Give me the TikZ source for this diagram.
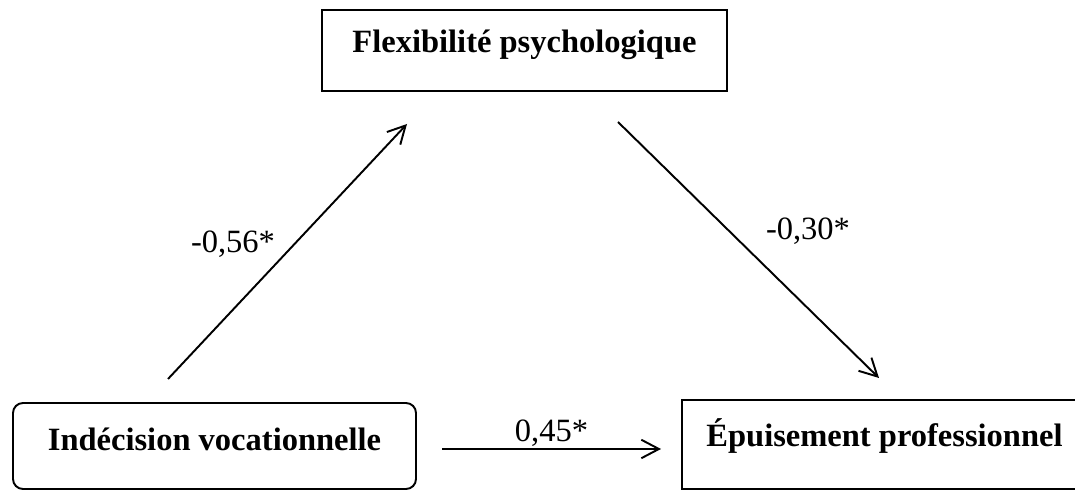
\documentclass[tikz,border=0pt]{standalone}
\usepackage{fontspec}
\setmainfont{Liberation Serif}
\usepackage{tikz}
\usetikzlibrary{positioning, arrows.meta}
\tikzset{
    block/.style={
        draw, line width = 1.1pt,
        minimum width = 8.1cm,
        inner ysep = 0pt,
        align = center, anchor = base,
        font = \fontsize{18.5}{22}\selectfont\bfseries
    },
    coef/.style = {anchor = base, font = \fontsize{18.5}{22}\selectfont},
    line/.style = {line width = 1.1pt, -{Straight Barb[length=10pt, width=10.5pt, line width=1.1pt]}}
}
\begin{document}
\begin{tikzpicture}

    \useasboundingbox (0,0) rectangle (21.5,9.82);
    \clip (0,0) rectangle (21.5,9.82);

    % Boxes
    \node[block, text height = 0.86cm, text depth = 0.76cm] (flex) at (10.49,8.76) {Flexibilité psychologique};
    \node[block, rounded corners = 0.2cm, minimum width = 8.06cm,
        text height = 0.96cm, text depth = 0.76cm] (indecision) at (4.29,0.80) {Indécision vocationnelle};
    \node[block, text height = 0.94cm, text depth = 0.84cm] (epuisement) at (17.69,0.88) {Épuisement professionnel};

    % Arrow ends
    \coordinate (a1) at (3.36,2.24);
    \coordinate (a2) at (8.14,7.34);
    \coordinate (b1) at (12.36,7.38);
    \coordinate (b2) at (17.58,2.26);
    \coordinate (c1) at (8.84,0.84);
    \coordinate (c2) at (13.22,0.84);

    % Lines
    \draw[line] (a1) -- (a2);
    \draw[line] (b1) -- (b2);
    \draw[line] (c1) -- (c2);

    % Coefficients
    \node[coef] (ca) at (4.66,4.76) {-0,56*};
    \node[coef] (cb) at (16.16,5.02) {-0,30*};
    \node[coef] (cc) at (11.03,0.98) {0,45*};

\end{tikzpicture}
\end{document}
